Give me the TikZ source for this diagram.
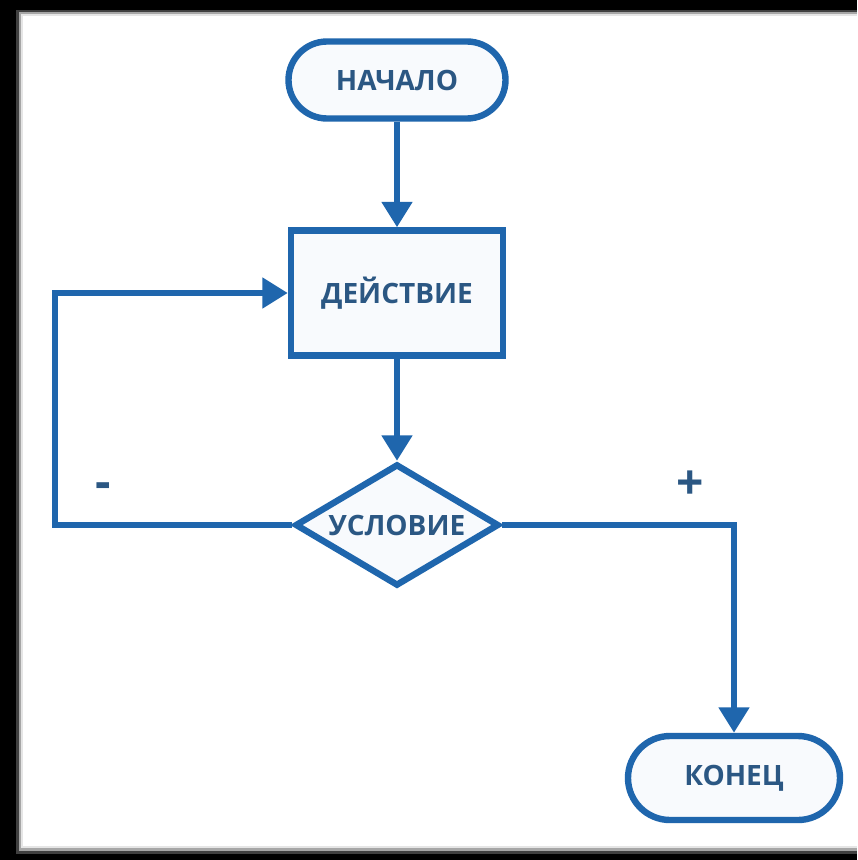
\documentclass[tikz,border=0pt]{standalone}
\usepackage{fontspec}
\newfontfamily\flowfont{Open Sans}
\usetikzlibrary{arrows.meta,shapes.geometric}

\definecolor{flowblue}{HTML}{1F66AD}
\definecolor{flowtext}{HTML}{2B5783}
\definecolor{flowfill}{HTML}{F8FAFD}

\begin{document}
\begin{tikzpicture}[x=0.75pt,y=-0.75pt,
    shapebase/.style={draw=flowblue, line width=4.8pt, fill=flowfill,
      text=flowtext, font=\flowfont\bfseries\fontsize{21pt}{23pt}\selectfont,
      inner sep=0pt, align=center},
    terminal/.style={shapebase, rectangle, rounded corners=#1},
    process/.style={shapebase, rectangle},
    decision/.style={shapebase, diamond, aspect=1.67},
    flowline/.style={draw=flowblue, line width=4.8pt,
      -{Triangle[width=22pt,length=19pt]}},
    sign/.style={text=flowtext, font=\flowfont\bfseries\fontsize{36pt}{38pt}\selectfont}
  ]
  % frame around the sheet
  \useasboundingbox (0,0) rectangle (857,860);
  \fill[black] (0,0) rectangle (857,860);
  \fill[black!75] (16,10) rectangle (857,854);
  \fill[black!35] (19,12) rectangle (857,851);
  \fill[black!10] (21,14) rectangle (857,848);
  \fill[white] (23,16) rectangle (857,846);

  % blocks
  \node[terminal=28.9pt, minimum width=162.75pt, minimum height=57.75pt]
    (start) at (397,80) {НАЧАЛО};
  \node[process, minimum width=159pt, minimum height=93.75pt]
    (act) at (397,293) {ДЕЙСТВИЕ};
  \node[decision, minimum width=153pt, minimum height=91.5pt]
    (cond) at (397,525) {УСЛОВИЕ};
  \node[terminal=31.5pt, minimum width=159pt, minimum height=63pt]
    (stop) at (734,778) {КОНЕЦ};

  % loop-back column
  \coordinate (loopx) at (55,0);

  % connectors
  \draw[flowline] (start.south) -- (act.north);
  \draw[flowline] (act.south) -- (cond.north);
  \draw[flowline] (cond.west) -- (cond.west -| loopx) |- (act.west);
  \draw[flowline] (cond.east) -| (stop.north);

  % branch labels
  \node[sign] (minus) at (103,491) {-};
  \node[sign] (plus) at (690,485) {+};
\end{tikzpicture}
\end{document}
